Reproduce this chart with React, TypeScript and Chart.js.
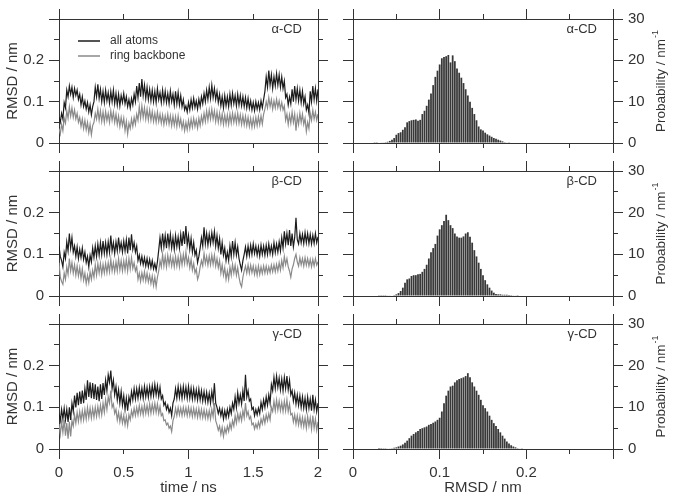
import React, { useEffect, useRef } from 'react';
import { Chart, registerables } from 'chart.js';
Chart.register(...registerables);

// ---------- data ----------
const TIME_NS = [
  0, 0.01, 0.02, 0.03, 0.04, 0.05, 0.06, 0.07, 0.08, 0.09,
  0.1, 0.11, 0.12, 0.13, 0.14, 0.15, 0.16, 0.17, 0.18, 0.19,
  0.2, 0.21, 0.22, 0.23, 0.24, 0.25, 0.26, 0.27, 0.28, 0.29,
  0.3, 0.31, 0.32, 0.33, 0.34, 0.35, 0.36, 0.37, 0.38, 0.39,
  0.4, 0.41, 0.42, 0.43, 0.44, 0.45, 0.46, 0.47, 0.48, 0.49,
  0.5, 0.51, 0.52, 0.53, 0.54, 0.55, 0.56, 0.57, 0.58, 0.59,
  0.6, 0.61, 0.62, 0.63, 0.64, 0.65, 0.66, 0.67, 0.68, 0.69,
  0.7, 0.71, 0.72, 0.73, 0.74, 0.75, 0.76, 0.77, 0.78, 0.79,
  0.8, 0.81, 0.82, 0.83, 0.84, 0.85, 0.86, 0.87, 0.88, 0.89,
  0.9, 0.91, 0.92, 0.93, 0.94, 0.95, 0.96, 0.97, 0.98, 0.99,
  1, 1.01, 1.02, 1.03, 1.04, 1.05, 1.06, 1.07, 1.08, 1.09,
  1.1, 1.11, 1.12, 1.13, 1.14, 1.15, 1.16, 1.17, 1.18, 1.19,
  1.2, 1.21, 1.22, 1.23, 1.24, 1.25, 1.26, 1.27, 1.28, 1.29,
  1.3, 1.31, 1.32, 1.33, 1.34, 1.35, 1.36, 1.37, 1.38, 1.39,
  1.4, 1.41, 1.42, 1.43, 1.44, 1.45, 1.46, 1.47, 1.48, 1.49,
  1.5, 1.51, 1.52, 1.53, 1.54, 1.55, 1.56, 1.57, 1.58, 1.59,
  1.6, 1.61, 1.62, 1.63, 1.64, 1.65, 1.66, 1.67, 1.68, 1.69,
  1.7, 1.71, 1.72, 1.73, 1.74, 1.75, 1.76, 1.77, 1.78, 1.79,
  1.8, 1.81, 1.82, 1.83, 1.84, 1.85, 1.86, 1.87, 1.88, 1.89,
  1.9, 1.91, 1.92, 1.93, 1.94, 1.95, 1.96, 1.97, 1.98, 1.99,
  2,
];

const ALPHA_ALL = [
  0.062, 0.050, 0.072, 0.058, 0.098, 0.085, 0.128, 0.112, 0.138, 0.118,
  0.135, 0.110, 0.132, 0.115, 0.128, 0.105, 0.118, 0.092, 0.112, 0.088,
  0.102, 0.082, 0.098, 0.075, 0.092, 0.068, 0.088, 0.100, 0.135, 0.112,
  0.142, 0.108, 0.130, 0.100, 0.125, 0.098, 0.128, 0.102, 0.122, 0.096,
  0.125, 0.100, 0.128, 0.095, 0.120, 0.092, 0.118, 0.090, 0.115, 0.098,
  0.120, 0.095, 0.112, 0.088, 0.105, 0.085, 0.108, 0.092, 0.118, 0.100,
  0.138, 0.110, 0.145, 0.112, 0.155, 0.115, 0.140, 0.108, 0.135, 0.105,
  0.130, 0.102, 0.128, 0.100, 0.125, 0.098, 0.132, 0.105, 0.122, 0.098,
  0.128, 0.100, 0.125, 0.098, 0.120, 0.095, 0.126, 0.100, 0.118, 0.092,
  0.125, 0.095, 0.122, 0.092, 0.115, 0.088, 0.105, 0.080, 0.090, 0.075,
  0.098, 0.080, 0.105, 0.085, 0.108, 0.086, 0.102, 0.082, 0.106, 0.088,
  0.112, 0.095, 0.120, 0.100, 0.128, 0.105, 0.135, 0.108, 0.140, 0.110,
  0.132, 0.105, 0.125, 0.098, 0.118, 0.090, 0.112, 0.085, 0.115, 0.090,
  0.112, 0.088, 0.118, 0.092, 0.120, 0.095, 0.115, 0.090, 0.118, 0.092,
  0.115, 0.090, 0.112, 0.088, 0.110, 0.085, 0.108, 0.084, 0.102, 0.080,
  0.098, 0.078, 0.100, 0.082, 0.098, 0.080, 0.102, 0.085, 0.105, 0.125,
  0.160, 0.135, 0.175, 0.140, 0.165, 0.132, 0.160, 0.138, 0.168, 0.140,
  0.165, 0.135, 0.160, 0.132, 0.150, 0.110, 0.118, 0.092, 0.112, 0.095,
  0.130, 0.100, 0.138, 0.105, 0.132, 0.102, 0.128, 0.098, 0.125, 0.095,
  0.112, 0.080, 0.092, 0.072, 0.125, 0.100, 0.138, 0.105, 0.132, 0.102,
  0.130,
];
const ALPHA_RING = [
  0.035, 0.022, 0.045, 0.030, 0.060, 0.048, 0.078, 0.060, 0.088, 0.065,
  0.085, 0.062, 0.080, 0.058, 0.072, 0.050, 0.062, 0.040, 0.058, 0.035,
  0.055, 0.032, 0.050, 0.025, 0.045, 0.020, 0.042, 0.050, 0.072, 0.058,
  0.082, 0.055, 0.078, 0.052, 0.075, 0.050, 0.076, 0.054, 0.072, 0.050,
  0.078, 0.055, 0.075, 0.050, 0.070, 0.045, 0.065, 0.040, 0.062, 0.042,
  0.060, 0.030, 0.052, 0.022, 0.048, 0.035, 0.058, 0.040, 0.062, 0.045,
  0.070, 0.055, 0.088, 0.060, 0.090, 0.062, 0.085, 0.058, 0.082, 0.056,
  0.080, 0.055, 0.076, 0.052, 0.072, 0.050, 0.075, 0.052, 0.070, 0.048,
  0.068, 0.045, 0.066, 0.048, 0.070, 0.046, 0.066, 0.042, 0.065, 0.043,
  0.064, 0.040, 0.066, 0.042, 0.058, 0.035, 0.052, 0.030, 0.050, 0.032,
  0.055, 0.035, 0.058, 0.038, 0.060, 0.040, 0.056, 0.036, 0.060, 0.042,
  0.065, 0.048, 0.072, 0.052, 0.078, 0.055, 0.080, 0.058, 0.082, 0.058,
  0.078, 0.052, 0.075, 0.050, 0.072, 0.048, 0.070, 0.045, 0.068, 0.046,
  0.068, 0.045, 0.070, 0.048, 0.072, 0.050, 0.070, 0.048, 0.072, 0.048,
  0.068, 0.045, 0.066, 0.044, 0.065, 0.042, 0.062, 0.040, 0.060, 0.038,
  0.060, 0.040, 0.062, 0.042, 0.064, 0.044, 0.066, 0.046, 0.070, 0.082,
  0.100, 0.085, 0.110, 0.088, 0.105, 0.082, 0.102, 0.085, 0.106, 0.086,
  0.102, 0.082, 0.098, 0.080, 0.090, 0.055, 0.070, 0.045, 0.068, 0.048,
  0.075, 0.050, 0.070, 0.030, 0.065, 0.045, 0.072, 0.050, 0.070, 0.045,
  0.060, 0.028, 0.050, 0.035, 0.072, 0.055, 0.080, 0.058, 0.075, 0.055,
  0.070,
];

const BETA_ALL = [
  0.120, 0.095, 0.085, 0.070, 0.105, 0.090, 0.130, 0.108, 0.150, 0.115,
  0.140, 0.105, 0.120, 0.095, 0.118, 0.090, 0.112, 0.092, 0.115, 0.088,
  0.105, 0.080, 0.095, 0.070, 0.098, 0.082, 0.115, 0.092, 0.120, 0.095,
  0.125, 0.098, 0.128, 0.100, 0.132, 0.102, 0.128, 0.100, 0.130, 0.105,
  0.145, 0.108, 0.128, 0.102, 0.130, 0.108, 0.140, 0.110, 0.128, 0.105,
  0.132, 0.108, 0.135, 0.102, 0.140, 0.110, 0.148, 0.112, 0.128, 0.105,
  0.120, 0.085, 0.098, 0.078, 0.095, 0.075, 0.092, 0.072, 0.090, 0.070,
  0.088, 0.068, 0.085, 0.065, 0.078, 0.062, 0.082, 0.110, 0.140, 0.115,
  0.150, 0.118, 0.145, 0.115, 0.150, 0.120, 0.148, 0.115, 0.140, 0.112,
  0.145, 0.118, 0.142, 0.115, 0.148, 0.120, 0.155, 0.125, 0.168, 0.122,
  0.145, 0.112, 0.138, 0.105, 0.128, 0.098, 0.110, 0.080, 0.095, 0.115,
  0.140, 0.120, 0.165, 0.125, 0.150, 0.122, 0.148, 0.125, 0.152, 0.128,
  0.155, 0.120, 0.145, 0.115, 0.138, 0.100, 0.128, 0.098, 0.115, 0.085,
  0.105, 0.085, 0.120, 0.095, 0.132, 0.100, 0.128, 0.098, 0.118, 0.090,
  0.075, 0.062, 0.085, 0.100, 0.118, 0.095, 0.120, 0.098, 0.122, 0.100,
  0.125, 0.102, 0.120, 0.098, 0.118, 0.096, 0.122, 0.100, 0.120, 0.098,
  0.122, 0.100, 0.125, 0.102, 0.120, 0.100, 0.128, 0.104, 0.125, 0.105,
  0.130, 0.108, 0.140, 0.115, 0.155, 0.125, 0.150, 0.122, 0.158, 0.120,
  0.150, 0.118, 0.140, 0.188, 0.135, 0.125, 0.150, 0.128, 0.148, 0.126,
  0.152, 0.128, 0.150, 0.126, 0.148, 0.125, 0.146, 0.126, 0.150, 0.128,
  0.142,
];
const BETA_RING = [
  0.080, 0.045, 0.035, 0.028, 0.055, 0.040, 0.070, 0.052, 0.090, 0.060,
  0.080, 0.055, 0.075, 0.050, 0.072, 0.048, 0.068, 0.042, 0.065, 0.038,
  0.055, 0.030, 0.050, 0.032, 0.058, 0.040, 0.062, 0.045, 0.075, 0.050,
  0.078, 0.055, 0.078, 0.052, 0.076, 0.055, 0.078, 0.056, 0.080, 0.058,
  0.088, 0.060, 0.080, 0.058, 0.082, 0.060, 0.090, 0.062, 0.085, 0.060,
  0.085, 0.062, 0.088, 0.060, 0.090, 0.065, 0.092, 0.066, 0.080, 0.060,
  0.070, 0.040, 0.055, 0.035, 0.056, 0.038, 0.058, 0.036, 0.055, 0.034,
  0.050, 0.030, 0.048, 0.025, 0.045, 0.022, 0.045, 0.060, 0.085, 0.070,
  0.100, 0.072, 0.095, 0.070, 0.098, 0.075, 0.096, 0.072, 0.092, 0.070,
  0.095, 0.072, 0.094, 0.070, 0.098, 0.075, 0.100, 0.078, 0.105, 0.076,
  0.092, 0.068, 0.088, 0.062, 0.078, 0.055, 0.065, 0.040, 0.050, 0.070,
  0.085, 0.072, 0.102, 0.078, 0.095, 0.074, 0.096, 0.075, 0.098, 0.076,
  0.098, 0.072, 0.090, 0.068, 0.085, 0.055, 0.075, 0.050, 0.068, 0.040,
  0.060, 0.040, 0.070, 0.050, 0.076, 0.055, 0.074, 0.050, 0.068, 0.045,
  0.030, 0.022, 0.045, 0.060, 0.072, 0.055, 0.075, 0.055, 0.074, 0.056,
  0.072, 0.052, 0.070, 0.050, 0.072, 0.052, 0.070, 0.054, 0.072, 0.055,
  0.072, 0.055, 0.070, 0.056, 0.074, 0.058, 0.075, 0.058, 0.076, 0.060,
  0.080, 0.062, 0.085, 0.068, 0.095, 0.075, 0.090, 0.070, 0.060, 0.045,
  0.065, 0.075, 0.090, 0.100, 0.082, 0.072, 0.092, 0.075, 0.090, 0.072,
  0.092, 0.074, 0.090, 0.072, 0.088, 0.070, 0.088, 0.072, 0.090, 0.074,
  0.082,
];

const GAMMA_ALL = [
  0.085, 0.068, 0.095, 0.072, 0.098, 0.070, 0.095, 0.065, 0.100, 0.070,
  0.110, 0.090, 0.128, 0.100, 0.135, 0.105, 0.138, 0.108, 0.140, 0.110,
  0.145, 0.118, 0.165, 0.125, 0.160, 0.122, 0.158, 0.120, 0.155, 0.118,
  0.150, 0.115, 0.155, 0.120, 0.158, 0.130, 0.165, 0.140, 0.178, 0.160,
  0.188, 0.145, 0.165, 0.130, 0.150, 0.118, 0.142, 0.110, 0.138, 0.105,
  0.128, 0.095, 0.122, 0.092, 0.125, 0.110, 0.138, 0.118, 0.145, 0.120,
  0.145, 0.122, 0.148, 0.124, 0.146, 0.122, 0.150, 0.125, 0.148, 0.124,
  0.150, 0.126, 0.152, 0.128, 0.155, 0.130, 0.152, 0.126, 0.148, 0.120,
  0.128, 0.105, 0.112, 0.095, 0.105, 0.088, 0.098, 0.080, 0.110, 0.120,
  0.145, 0.122, 0.150, 0.124, 0.148, 0.122, 0.150, 0.125, 0.148, 0.122,
  0.150, 0.122, 0.146, 0.120, 0.145, 0.120, 0.142, 0.118, 0.144, 0.118,
  0.140, 0.115, 0.138, 0.114, 0.136, 0.112, 0.134, 0.110, 0.138, 0.115,
  0.158, 0.110, 0.100, 0.085, 0.098, 0.080, 0.095, 0.072, 0.092, 0.075,
  0.095, 0.078, 0.100, 0.085, 0.110, 0.095, 0.125, 0.100, 0.135, 0.110,
  0.130, 0.108, 0.140, 0.115, 0.178, 0.125, 0.140, 0.115, 0.120, 0.095,
  0.100, 0.080, 0.095, 0.082, 0.098, 0.085, 0.112, 0.095, 0.118, 0.100,
  0.125, 0.105, 0.130, 0.110, 0.155, 0.140, 0.172, 0.145, 0.175, 0.148,
  0.170, 0.142, 0.168, 0.140, 0.172, 0.145, 0.175, 0.142, 0.165, 0.130,
  0.140, 0.115, 0.135, 0.108, 0.130, 0.105, 0.128, 0.100, 0.125, 0.098,
  0.122, 0.095, 0.125, 0.098, 0.120, 0.092, 0.130, 0.095, 0.118, 0.090,
  0.110,
];
const GAMMA_RING = [
  0.060, 0.035, 0.065, 0.040, 0.070, 0.032, 0.062, 0.025, 0.065, 0.030,
  0.068, 0.055, 0.082, 0.062, 0.088, 0.066, 0.090, 0.068, 0.092, 0.070,
  0.095, 0.072, 0.100, 0.075, 0.098, 0.074, 0.098, 0.076, 0.100, 0.078,
  0.102, 0.080, 0.105, 0.082, 0.110, 0.088, 0.118, 0.095, 0.125, 0.110,
  0.140, 0.100, 0.108, 0.085, 0.095, 0.070, 0.088, 0.065, 0.085, 0.062,
  0.080, 0.058, 0.078, 0.056, 0.082, 0.070, 0.092, 0.078, 0.098, 0.080,
  0.100, 0.082, 0.104, 0.084, 0.102, 0.082, 0.106, 0.085, 0.105, 0.084,
  0.108, 0.086, 0.108, 0.088, 0.110, 0.088, 0.108, 0.085, 0.102, 0.080,
  0.085, 0.068, 0.070, 0.058, 0.062, 0.050, 0.055, 0.042, 0.068, 0.078,
  0.098, 0.080, 0.100, 0.082, 0.098, 0.080, 0.100, 0.082, 0.099, 0.080,
  0.100, 0.080, 0.098, 0.078, 0.098, 0.078, 0.096, 0.076, 0.097, 0.076,
  0.095, 0.075, 0.094, 0.074, 0.092, 0.073, 0.092, 0.072, 0.095, 0.078,
  0.110, 0.068, 0.058, 0.045, 0.055, 0.035, 0.052, 0.030, 0.050, 0.038,
  0.055, 0.042, 0.062, 0.048, 0.068, 0.055, 0.080, 0.062, 0.085, 0.068,
  0.085, 0.068, 0.092, 0.075, 0.110, 0.080, 0.090, 0.072, 0.078, 0.058,
  0.062, 0.048, 0.060, 0.050, 0.065, 0.052, 0.072, 0.060, 0.078, 0.062,
  0.082, 0.068, 0.085, 0.070, 0.100, 0.090, 0.115, 0.092, 0.118, 0.094,
  0.115, 0.092, 0.112, 0.090, 0.115, 0.092, 0.118, 0.090, 0.108, 0.082,
  0.085, 0.065, 0.082, 0.060, 0.080, 0.058, 0.078, 0.055, 0.076, 0.054,
  0.075, 0.050, 0.078, 0.055, 0.075, 0.048, 0.080, 0.050, 0.072, 0.045,
  0.065,
];

const RMSD_BINS = [
  0.02, 0.0225, 0.025, 0.0275, 0.03, 0.0325, 0.035, 0.0375, 0.04, 0.0425,
  0.045, 0.0475, 0.05, 0.0525, 0.055, 0.0575, 0.06, 0.0625, 0.065, 0.0675,
  0.07, 0.0725, 0.075, 0.0775, 0.08, 0.0825, 0.085, 0.0875, 0.09, 0.0925,
  0.095, 0.0975, 0.1, 0.1025, 0.105, 0.1075, 0.11, 0.1125, 0.115, 0.1175,
  0.12, 0.1225, 0.125, 0.1275, 0.13, 0.1325, 0.135, 0.1375, 0.14, 0.1425,
  0.145, 0.1475, 0.15, 0.1525, 0.155, 0.1575, 0.16, 0.1625, 0.165, 0.1675,
  0.17, 0.1725, 0.175, 0.1775, 0.18, 0.1825, 0.185, 0.1875, 0.19, 0.1925,
  0.195, 0.1975, 0.2,
];
const ALPHA_PROB = [
  0, 0, 0.05, 0.05, 0.1, 0.1, 0.15, 0.2, 0.3, 0.5,
  0.8, 1.2, 2.0, 2.4, 2.6, 3.2, 3.8, 5.0, 5.3, 5.5,
  5.6, 5.7, 5.4, 5.6, 7.0, 7.8, 9.0, 10.5, 12.0, 14.0,
  16.0, 17.5, 19.0, 20.5, 20.8, 21.0, 21.3, 19.5, 21.2, 19.8,
  18.0, 17.0, 15.8, 14.5, 13.0, 11.5, 10.0, 8.5, 7.0, 5.5,
  4.0, 3.3, 3.0, 2.5, 2.1, 1.8, 1.5, 1.2, 1.0, 0.8,
  0.6, 0.4, 0.2, 0.1, 0.05, 0, 0, 0, 0, 0,
  0, 0, 0,
];
const BETA_PROB = [
  0, 0, 0, 0, 0.05, 0.05, 0.05, 0.05, 0.1, 0.1,
  0.15, 0.2, 0.4, 0.7, 1.2, 2.0, 3.2, 4.0, 4.2, 4.8,
  5.0, 5.0, 5.2, 5.3, 5.8, 6.5, 7.5, 9.0, 10.5, 11.5,
  12.5, 14.5, 16.0, 17.0, 18.0, 19.5, 18.2, 17.0, 16.3, 15.0,
  14.3, 14.0, 14.0, 14.3, 15.0, 15.3, 14.2, 12.8, 11.0, 9.5,
  8.0, 6.5, 5.0, 3.8, 2.8, 2.0, 1.3, 0.8, 0.5, 0.4,
  0.4, 0.3, 0.3, 0.3, 0.25, 0.2, 0.15, 0.1, 0.05, 0,
  0, 0, 0,
];
const GAMMA_PROB = [
  0, 0, 0, 0, 0.02, 0.03, 0.05, 0.05, 0.1, 0.15,
  0.2, 0.3, 0.4, 0.6, 0.8, 1.1, 1.5, 2.0, 2.6, 3.2,
  3.6, 4.0, 4.3, 4.8, 5.0, 5.2, 5.4, 5.8, 6.0, 6.3,
  6.6, 7.0, 7.5, 9.0, 11.0, 12.8, 14.0, 15.0, 15.2, 16.0,
  16.5, 16.8, 17.0, 17.2, 17.5, 18.2, 17.2, 16.0, 15.0, 14.0,
  13.0, 11.8, 10.5, 9.8, 9.0, 8.0, 7.0, 6.2, 5.5, 4.8,
  4.0, 3.2, 2.5, 1.8, 1.3, 0.9, 0.6, 0.4, 0.2, 0.1,
  0.05, 0, 0,
];

const PANEL_LABELS = ['α-CD', 'β-CD', 'γ-CD'];
const SERIES_NAMES = ['all atoms', 'ring backbone'];
const TIME_TICK_LABELS = [0, 0.5, 1, 1.5, 2];
const RMSD_TICK_LABELS = [0, 0.1, 0.2];
const PROB_TICK_LABELS = [0, 10, 20, 30];

const ALL_SERIES = [ALPHA_ALL, BETA_ALL, GAMMA_ALL];
const RING_SERIES = [ALPHA_RING, BETA_RING, GAMMA_RING];
const PROB_SERIES = [ALPHA_PROB, BETA_PROB, GAMMA_PROB];

// ---------- layout / style ----------
const FONT = '"Liberation Sans", Arial, Helvetica, sans-serif';
const INK = '#333333';
const BLACK_LINE = '#1c1c1c';
const GRAY_LINE = '#8a8a8a';
const BAR = '#383838';

const ROWS = [
  { top: 0, h: 157, pt: 19, pb: 144 },
  { top: 157, h: 153, pt: 171, pb: 297 },
  { top: 310, h: 185, pt: 324, pb: 449 },
];
const COLS = [
  { left: 0, w: 336, pl: 59, pr: 318 },
  { left: 336, w: 343, pl: 353, pr: 613 },
];

const near = (a: number, b: number) => Math.abs(a - b) < 1e-6;
const pick = (list: number[], v: number) => {
  const f = list.find((t) => near(t, v));
  return f === undefined ? '' : String(f);
};

function mkScale(position: string, min: number, max: number, step: number, label: (v: number) => string, fit: number) {
  return {
    type: 'linear',
    position,
    min,
    max,
    offset: false,
    ticks: {
      stepSize: step,
      autoSkip: false,
      maxRotation: 0,
      minRotation: 0,
      padding: position === 'bottom' ? 5 : 5,
      color: INK,
      font: { family: FONT, size: 15 },
      callback: (v: any) => label(Number(v)),
    },
    grid: {
      display: true,
      drawOnChartArea: false,
      drawTicks: true,
      tickLength: 10,
      tickColor: 'rgba(0,0,0,0)',
      offset: false,
    },
    border: { display: true, color: INK, width: 1 },
    afterFit: (s: any) => {
      if (position === 'left' || position === 'right') s.width = fit;
      else s.height = fit;
    },
  };
}

function decorPlugin(row: number, col: number) {
  return {
    id: 'decor' + row + col,
    afterDraw(chart: any) {
      const ctx = chart.ctx as CanvasRenderingContext2D;
      const a = chart.chartArea;
      ctx.save();
      ctx.strokeStyle = INK;
      ctx.lineWidth = 1;
      const majX = col === 0 ? (v: number) => near(v, Math.round(v)) : (v: number) => near(v * 10, Math.round(v * 10));
      const majY = col === 0 ? (v: number) => near(v * 10, Math.round(v * 10)) : (v: number) => near(v / 10, Math.round(v / 10));
      (['x', 'x2', 'y', 'y2'] as const).forEach((id) => {
        const s = chart.scales[id];
        if (!s) return;
        s.ticks.forEach((t: any) => {
          const v = t.value;
          const isMaj = id[0] === 'x' ? majX(v) : majY(v);
          const len = isMaj ? 10 : 5;
          const p = Math.round(s.getPixelForValue(v) - 0.5) + 0.5;
          ctx.beginPath();
          if (id === 'x') { ctx.moveTo(p, a.bottom); ctx.lineTo(p, a.bottom + len); }
          if (id === 'x2') { ctx.moveTo(p, a.top); ctx.lineTo(p, a.top - len); }
          if (id === 'y') { ctx.moveTo(a.left, p); ctx.lineTo(a.left - len, p); }
          if (id === 'y2') { ctx.moveTo(a.right, p); ctx.lineTo(a.right + len, p); }
          ctx.stroke();
        });
      });

      ctx.fillStyle = INK;
      ctx.font = `13px ${FONT}`;
      ctx.textAlign = 'right';
      ctx.textBaseline = 'middle';
      ctx.fillText(PANEL_LABELS[row], a.right - 16, a.top + 10);

      if (row === 0 && col === 0) {
        const lx = a.left + 19;
        const ys = [a.top + 22, a.top + 37];
        [BLACK_LINE, GRAY_LINE].forEach((c, i) => {
          ctx.strokeStyle = c;
          ctx.lineWidth = 1.5;
          ctx.beginPath();
          ctx.moveTo(lx, ys[i]);
          ctx.lineTo(lx + 22, ys[i]);
          ctx.stroke();
        });
        ctx.fillStyle = INK;
        ctx.font = `12px ${FONT}`;
        ctx.textAlign = 'left';
        SERIES_NAMES.forEach((n, i) => ctx.fillText(n, lx + 32, ys[i]));
      }

      const cy = (a.top + a.bottom) / 2;
      if (col === 0) {
        ctx.save();
        ctx.translate(12.5, cy);
        ctx.rotate(-Math.PI / 2);
        ctx.font = `15px ${FONT}`;
        ctx.textAlign = 'center';
        ctx.textBaseline = 'middle';
        ctx.fillText('RMSD / nm', 0, 0);
        ctx.restore();
      } else {
        ctx.save();
        ctx.translate(661 - COLS[1].left, cy);
        ctx.rotate(-Math.PI / 2);
        const main = 'Probability / nm';
        const sup = '-1';
        ctx.font = `13.5px ${FONT}`;
        const wm = ctx.measureText(main).width;
        ctx.font = `9px ${FONT}`;
        const ws = ctx.measureText(sup).width;
        const x0 = -(wm + ws + 1) / 2;
        ctx.textAlign = 'left';
        ctx.textBaseline = 'middle';
        ctx.font = `13.5px ${FONT}`;
        ctx.fillText(main, x0, 0);
        ctx.font = `9px ${FONT}`;
        ctx.fillText(sup, x0 + wm + 1, -5);
        ctx.restore();
      }

      if (row === 2) {
        ctx.font = `15px ${FONT}`;
        ctx.textAlign = 'center';
        ctx.textBaseline = 'middle';
        ctx.fillText(col === 0 ? 'time / ns' : 'RMSD / nm', (a.left + a.right) / 2, 488 - ROWS[2].top);
      }
      ctx.restore();
    },
  };
}

function buildConfig(row: number, col: number): any {
  const R = ROWS[row];
  const C = COLS[col];
  const fitLeft = C.pl - C.left;
  const fitRight = C.left + C.w - C.pr;
  const fitTop = R.pt - R.top;
  const fitBottom = R.top + R.h - R.pb;
  const bottomRow = row === 2;
  const none = () => '';
  const common = {
    animation: false,
    responsive: false,
    devicePixelRatio: 1,
    events: [],
    layout: { padding: 0 },
    plugins: { legend: { display: false }, tooltip: { enabled: false } },
  };

  if (col === 0) {
    return {
      type: 'line',
      data: {
        datasets: [
          {
            label: SERIES_NAMES[0],
            data: TIME_NS.map((t, i) => ({ x: t, y: ALL_SERIES[row][i] })),
            borderColor: BLACK_LINE,
            borderWidth: 1.2,
            pointRadius: 0,
            tension: 0,
            fill: false,
          },
          {
            label: SERIES_NAMES[1],
            data: TIME_NS.map((t, i) => ({ x: t, y: RING_SERIES[row][i] })),
            borderColor: GRAY_LINE,
            borderWidth: 1.2,
            pointRadius: 0,
            tension: 0,
            fill: false,
          },
        ],
      },
      options: {
        ...common,
        scales: {
          x: mkScale('bottom', 0, 2, 0.5, bottomRow ? (v) => pick(TIME_TICK_LABELS, v) : none, fitBottom),
          x2: mkScale('top', 0, 2, 0.5, none, fitTop),
          y: mkScale('left', 0, 0.3, 0.05, (v) => pick(RMSD_TICK_LABELS, v), fitLeft),
          y2: mkScale('right', 0, 0.3, 0.05, none, fitRight),
        },
      },
      plugins: [decorPlugin(row, col)],
    };
  }
  return {
    type: 'bar',
    data: {
      datasets: [
        {
          label: PANEL_LABELS[row],
          data: RMSD_BINS.map((b, i) => ({ x: b, y: PROB_SERIES[row][i] })),
          backgroundColor: BAR,
          borderWidth: 0,
          barPercentage: 0.82,
          categoryPercentage: 1,
        },
      ],
    },
    options: {
      ...common,
      scales: {
        x: mkScale('bottom', 0, 0.3, 0.05, bottomRow ? (v) => pick(RMSD_TICK_LABELS, v) : none, fitBottom),
        x2: mkScale('top', 0, 0.3, 0.05, none, fitTop),
        y: mkScale('left', 0, 30, 5, none, fitLeft),
        y2: mkScale('right', 0, 30, 5, (v) => pick(PROB_TICK_LABELS, v), fitRight),
      },
    },
    plugins: [decorPlugin(row, col)],
  };
}

function Panel({ row, col }: { row: number; col: number }) {
  const ref = useRef<HTMLCanvasElement>(null);
  const R = ROWS[row];
  const C = COLS[col];
  useEffect(() => {
    if (!ref.current) return;
    const chart = new Chart(ref.current, buildConfig(row, col));
    return () => chart.destroy();
  }, [row, col]);
  return (
    <canvas
      ref={ref}
      width={C.w}
      height={R.h}
      style={{ position: 'absolute', left: C.left, top: R.top, width: C.w, height: R.h }}
    />
  );
}

export default function App() {
  return (
    <div style={{ position: 'absolute', left: 0, top: 0, width: 679, height: 495, background: '#ffffff', overflow: 'hidden' }}>
      {[0, 1, 2].map((r) => [0, 1].map((c) => <Panel key={`${r}-${c}`} row={r} col={c} />))}
    </div>
  );
}
